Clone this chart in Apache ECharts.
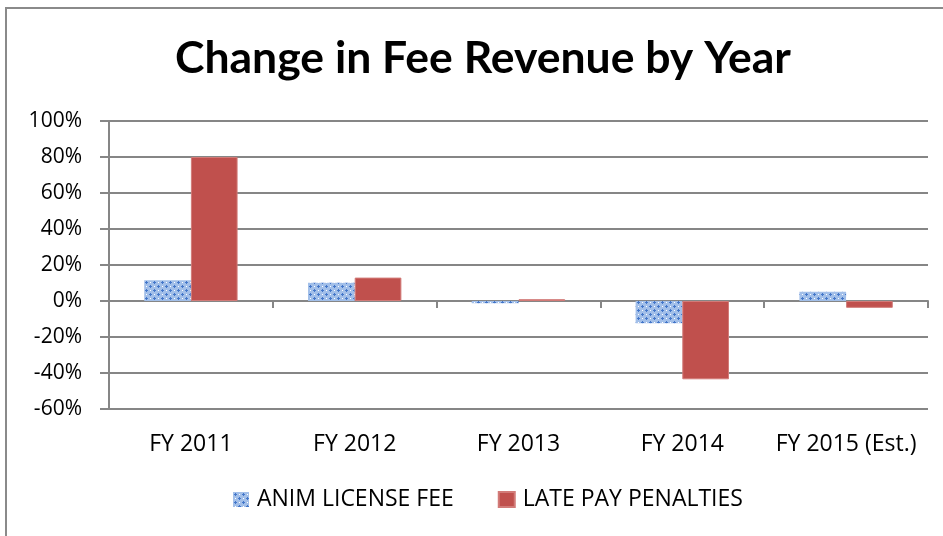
<!DOCTYPE html>
<html>
<head>
<meta charset="utf-8">
<script src="https://cdn.jsdelivr.net/npm/echarts@6/dist/echarts.min.js"></script>
<style>
    html, body { margin: 0; padding: 0; background: #fff; }
    #wrap { position: relative; width: 943px; height: 536px; overflow: hidden; }
    #frame { position: absolute; left: 5px; top: 7px; width: 960px; height: 560px; border: 2px solid #8a8a8a; }
    #chart { position: absolute; left: 0; top: 0; width: 943px; height: 536px; }
</style>
</head>
<body>
<div id="wrap">
    <div id="frame"></div>
    <div id="chart"></div>
</div>
<script>
// Chart data (percent change per year)
const categories = ['FY 2011', 'FY 2012', 'FY 2013', 'FY 2014', 'FY 2015 (Est.)'];
const animLicenseFee = [11.5, 10.2, -1.2, -12.3, 5.2];
const latePayPenalties = [80, 13, 1, -43.5, -3.8];
const seriesNames = ['ANIM LICENSE FEE', 'LATE PAY PENALTIES'];

const TITLE_FONT = 'Lato, "Open Sans", sans-serif';
const FONT = '"Open Sans", Lato, sans-serif';

// Small plus/dot tile, close to the Excel pattern fill
function makePattern() {
    const c = document.createElement('canvas');
    c.width = 8;
    c.height = 8;
    const ctx = c.getContext('2d');
    ctx.fillStyle = '#a2bfe9';
    ctx.fillRect(0, 0, 8, 8);
    ctx.fillStyle = '#4376c9';
    [[2, 2], [6, 6]].forEach(([x, y]) => {
        ctx.fillRect(x - 1, y, 3, 1);
        ctx.fillRect(x, y - 1, 1, 3);
    });
    ctx.fillStyle = '#ffffff';
    ctx.fillRect(6, 2, 1, 1);
    ctx.fillRect(2, 6, 1, 1);
    return c;
}

const pattern = { image: makePattern(), repeat: 'repeat' };

const chart = echarts.init(document.getElementById('chart'));

const gray = '#868686';

const option = {
    animation: false,
    title: {
        text: 'Change in Fee Revenue by Year',
        left: 170,
        top: 31,
        textStyle: { fontFamily: TITLE_FONT, fontSize: 44.5, fontWeight: 'bold', color: '#000' }
    },
    legend: {
        top: 483,
        left: 228,
        icon: 'rect',
        itemWidth: 16,
        itemHeight: 15,
        itemGap: 44,
        textStyle: { fontFamily: FONT, fontSize: 23, color: '#000', padding: [0, 0, 0, 3] },
        data: seriesNames
    },
    grid: { left: 109, right: 15, top: 121, bottom: 127, outerBoundsMode: 'none' },
    xAxis: [
        {
            // zero line with category ticks
            type: 'category',
            data: categories,
            axisLine: { onZero: true, lineStyle: { color: gray, width: 2 } },
            axisTick: { show: true, length: 7, lineStyle: { color: gray, width: 2 } },
            axisLabel: { show: false }
        },
        {
            // labels along the bottom of the plot
            type: 'category',
            data: categories,
            position: 'bottom',
            axisLine: { show: false, onZero: false },
            axisTick: { show: false },
            axisLabel: { margin: 24, interval: 0, fontFamily: FONT, fontSize: 23, color: '#000' }
        }
    ],
    yAxis: {
        type: 'value',
        min: -60,
        max: 100,
        interval: 20,
        axisLine: { show: true, lineStyle: { color: gray, width: 2 } },
        axisTick: { show: true, length: 9, lineStyle: { color: gray, width: 2 } },
        axisLabel: { formatter: '{value}%', margin: 27, fontFamily: FONT, fontSize: 21, color: '#000' },
        splitLine: { lineStyle: { color: gray, width: 2 } }
    },
    series: [
        {
            name: seriesNames[0],
            type: 'bar',
            data: animLicenseFee,
            barGap: '0%',
            barCategoryGap: '43%',
            itemStyle: { color: pattern }
        },
        {
            name: seriesNames[1],
            type: 'bar',
            data: latePayPenalties,
            itemStyle: { color: '#c0504d', borderColor: '#d27b78', borderWidth: 1 }
        }
    ]
};

chart.setOption(option);
</script>
</body>
</html>
